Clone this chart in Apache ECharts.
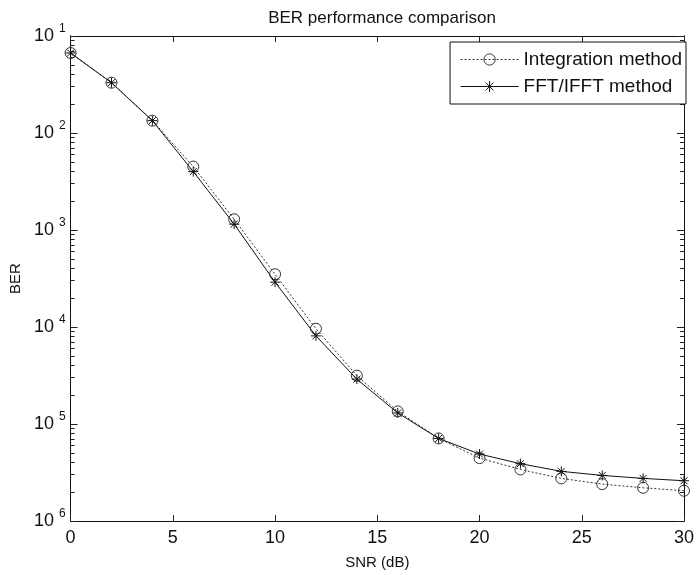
<!DOCTYPE html>
<html>
<head>
<meta charset="utf-8">
<script src="https://cdn.jsdelivr.net/npm/echarts@6/dist/echarts.min.js"></script>
<style>
  html, body { margin: 0; padding: 0; background: #fff; }
  #chart { width: 697px; height: 575px; }
</style>
</head>
<body>
<div id="chart"></div>
<script>
var snr = [0, 2, 4, 6, 8, 10, 12, 14, 16, 18, 20, 22, 24, 26, 28, 30];
var berIntegration = [0.0668, 0.033, 0.0134, 0.0045, 0.00129, 3.5e-4, 9.6e-5, 3.15e-5, 1.35e-5, 7.1e-6, 4.45e-6, 3.4e-6, 2.75e-6, 2.4e-6, 2.2e-6, 2.05e-6];
var berFFT = [0.0668, 0.033, 0.0134, 0.0040, 0.00115, 2.9e-4, 8.1e-5, 2.9e-5, 1.3e-5, 7.1e-6, 4.9e-6, 3.9e-6, 3.25e-6, 2.95e-6, 2.75e-6, 2.6e-6];
var xTicks = [0, 5, 10, 15, 20, 25, 30];
var yDecades = [1e-6, 1e-5, 1e-4, 1e-3, 1e-2, 1e-1];
var yMinor = [];
yDecades.slice(0, 5).forEach(function (d) {
  for (var k = 2; k <= 9; k++) yMinor.push(d * k);
});

var font = '"Liberation Sans", Arial, sans-serif';
var starPath = 'path://M5,0L5,10M0,5L10,5M1.5,1.5L8.5,8.5M1.5,8.5L8.5,1.5';

var chart = echarts.init(document.getElementById('chart'));

function logAxis(pos, ticks, len, labels) {
  return {
    type: 'log',
    logBase: 10,
    position: pos,
    min: 1e-6,
    max: 1e-1,
    axisLine: { show: true, lineStyle: { color: '#111', width: 1 } },
    axisTick: { show: true, inside: true, length: len, customValues: ticks, lineStyle: { color: '#222', width: 1 } },
    splitLine: { show: false },
    axisLabel: labels ? {
      show: true,
      customValues: yDecades,
      margin: 5,
      formatter: function (v) {
        var n = Math.round(-Math.log10(v));
        return '{b|10}{s|' + n + '}';
      },
      rich: {
        b: { fontSize: 18, fontFamily: font, color: '#111' },
        s: { fontSize: 12, fontFamily: font, color: '#111', padding: [0, 0, 14, 5] }
      }
    } : { show: false }
  };
}

function linAxis(pos, labels) {
  return {
    type: 'value',
    position: pos,
    min: 0,
    max: 30,
    interval: 5,
    name: labels ? 'SNR (dB)' : '',
    nameLocation: 'middle',
    nameGap: 34,
    nameTextStyle: { fontSize: 15, fontFamily: font, color: '#111' },
    axisLine: { show: true, onZero: false, lineStyle: { color: '#111', width: 1 } },
    axisTick: { show: true, inside: true, length: 6, customValues: xTicks, lineStyle: { color: '#222', width: 1 } },
    splitLine: { show: false },
    axisLabel: { show: labels, fontSize: 18, fontFamily: font, color: '#111', margin: 8 }
  };
}

var yLeft = logAxis('left', yDecades, 7, true);
yLeft.name = 'BER';
yLeft.nameLocation = 'middle';
yLeft.nameGap = 46;
yLeft.nameTextStyle = { fontSize: 15, fontFamily: font, color: '#111' };

var option = {
  animation: false,
  backgroundColor: '#fff',
  title: {
    text: 'BER performance comparison',
    left: 377,
    textAlign: 'center',
    top: 5,
    textStyle: { fontSize: 17, fontWeight: 'normal', fontFamily: font, color: '#111' }
  },
  grid: { left: 69, right: 11, top: 36, bottom: 52 },
  legend: {
    right: 11,
    top: 42,
    orient: 'vertical',
    backgroundColor: '#fff',
    borderColor: '#111',
    borderWidth: 1,
    padding: [8, 4, 8, 10],
    itemGap: 8,
    itemWidth: 58,
    itemHeight: 14,
    lineStyle: { width: 1 },
    itemStyle: { borderWidth: 1 },
    textStyle: { fontSize: 19, fontFamily: font, color: '#111' },
    data: ['Integration method', 'FFT/IFFT method']
  },
  xAxis: [linAxis('bottom', true), linAxis('top', false)],
  yAxis: [
    yLeft,
    logAxis('left', yMinor, 4, false),
    logAxis('right', yDecades, 7, false),
    logAxis('right', yMinor, 4, false)
  ],
  series: [
    {
      name: 'Integration method',
      type: 'line',
      data: snr.map(function (s, i) { return [s, berIntegration[i]]; }),
      symbol: 'circle',
      symbolSize: 11,
      itemStyle: { color: 'rgba(0,0,0,0)', borderColor: '#333', borderWidth: 1 },
      lineStyle: { color: '#333', width: 1, type: [2, 2] }
    },
    {
      name: 'FFT/IFFT method',
      type: 'line',
      data: snr.map(function (s, i) { return [s, berFFT[i]]; }),
      symbol: starPath,
      symbolSize: 10,
      itemStyle: { color: 'rgba(0,0,0,0)', borderColor: '#111', borderWidth: 1 },
      lineStyle: { color: '#111', width: 1 }
    }
  ]
};

chart.setOption(option);
</script>
</body>
</html>
